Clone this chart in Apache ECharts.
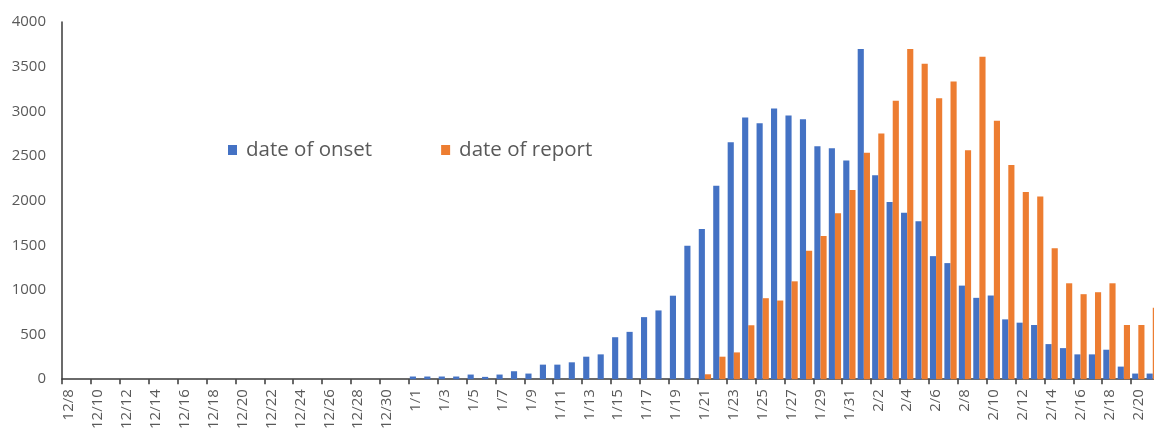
<!DOCTYPE html>
<html>
<head>
<meta charset="utf-8">
<script src="https://cdn.jsdelivr.net/npm/echarts@6/dist/echarts.min.js"></script>
<style>
html,body{margin:0;padding:0;background:#fff;overflow:hidden;width:1154px;height:432px;}
#chart{width:1160px;height:432px;}
</style>
</head>
<body>
<div id="chart"></div>
<script>
var categories = [
  "12/8","12/9","12/10","12/11","12/12","12/13","12/14","12/15","12/16","12/17","12/18","12/19",
  "12/20","12/21","12/22","12/23","12/24","12/25","12/26","12/27","12/28","12/29","12/30","12/31",
  "1/1","1/2","1/3","1/4","1/5","1/6","1/7","1/8","1/9","1/10","1/11","1/12","1/13","1/14","1/15","1/16",
  "1/17","1/18","1/19","1/20","1/21","1/22","1/23","1/24","1/25","1/26","1/27","1/28","1/29","1/30","1/31",
  "2/1","2/2","2/3","2/4","2/5","2/6","2/7","2/8","2/9","2/10","2/11","2/12","2/13","2/14","2/15","2/16",
  "2/17","2/18","2/19","2/20","2/21"
];
var seriesNames = ["date of onset", "date of report"];
var onsetValues = [
  0,0,0,0,0,0,0,0,0,0,0,0,
  0,0,0,0,0,0,0,0,0,0,0,0,
  30,30,30,30,52,26,52,89,63,163,163,189,252,278,470,530,
  695,770,935,1493,1682,2167,2652,2930,2867,3030,2952,2911,2608,2585,2448,
  3697,2285,1985,1863,1770,1378,1300,1048,911,937,670,633,607,393,348,278,
  278,330,141,63,63
];
var reportValues = [
  0,0,0,0,0,0,0,0,0,0,0,0,
  0,0,0,0,0,0,0,0,0,0,0,0,
  0,0,0,0,0,0,0,0,0,0,0,0,0,0,0,0,
  0,0,0,0,55,252,300,604,907,881,1096,1437,1604,1859,2119,
  2537,2752,3119,3697,3533,3145,3333,2563,3611,2893,2400,2096,2045,1467,1074,952,
  974,1074,607,607,800
];
var yTicks = [0, 500, 1000, 1500, 2000, 2500, 3000, 3500, 4000];

var chart = echarts.init(document.getElementById('chart'), null, {renderer: 'canvas'});
chart.setOption({
  animation: false,
  backgroundColor: '#ffffff',
  color: ['#4472C4', '#ED7D31'],
  legend: {
    data: seriesNames,
    left: 228,
    top: 138,
    padding: 0,
    icon: 'rect',
    itemWidth: 9,
    itemHeight: 10,
    itemGap: 69,
    textStyle: {fontFamily: 'Open Sans', fontSize: 20.5, lineHeight: 24, color: '#595959', padding: [0, 0, 0, 4]}
  },
  grid: {left: 62, right: 0, top: 22, bottom: 50, containLabel: false},
  xAxis: {
    type: 'category',
    data: categories,
    boundaryGap: true,
    axisLine: {show: true, lineStyle: {color: '#3a3a3a', width: 1.5}},
    axisTick: {show: true, interval: 1, length: 5, alignWithLabel: false, lineStyle: {color: '#3a3a3a', width: 1.5}},
    axisLabel: {interval: 1, rotate: 90, fontFamily: 'Open Sans', fontSize: 15, color: '#595959', margin: 10}
  },
  yAxis: {
    type: 'value',
    min: yTicks[0],
    max: yTicks[yTicks.length - 1],
    interval: 500,
    axisLine: {show: true, lineStyle: {color: '#3a3a3a', width: 1.5}},
    axisTick: {show: false},
    splitLine: {show: false},
    axisLabel: {fontFamily: 'Open Sans', fontSize: 15, color: '#595959', margin: 16,
      formatter: function (v) { return String(v); }}
  },
  series: [
    {name: seriesNames[0], type: 'bar', data: onsetValues, barGap: '0%', barCategoryGap: '15%'},
    {name: seriesNames[1], type: 'bar', data: reportValues, barGap: '0%', barCategoryGap: '15%'}
  ]
});
</script>
</body>
</html>
